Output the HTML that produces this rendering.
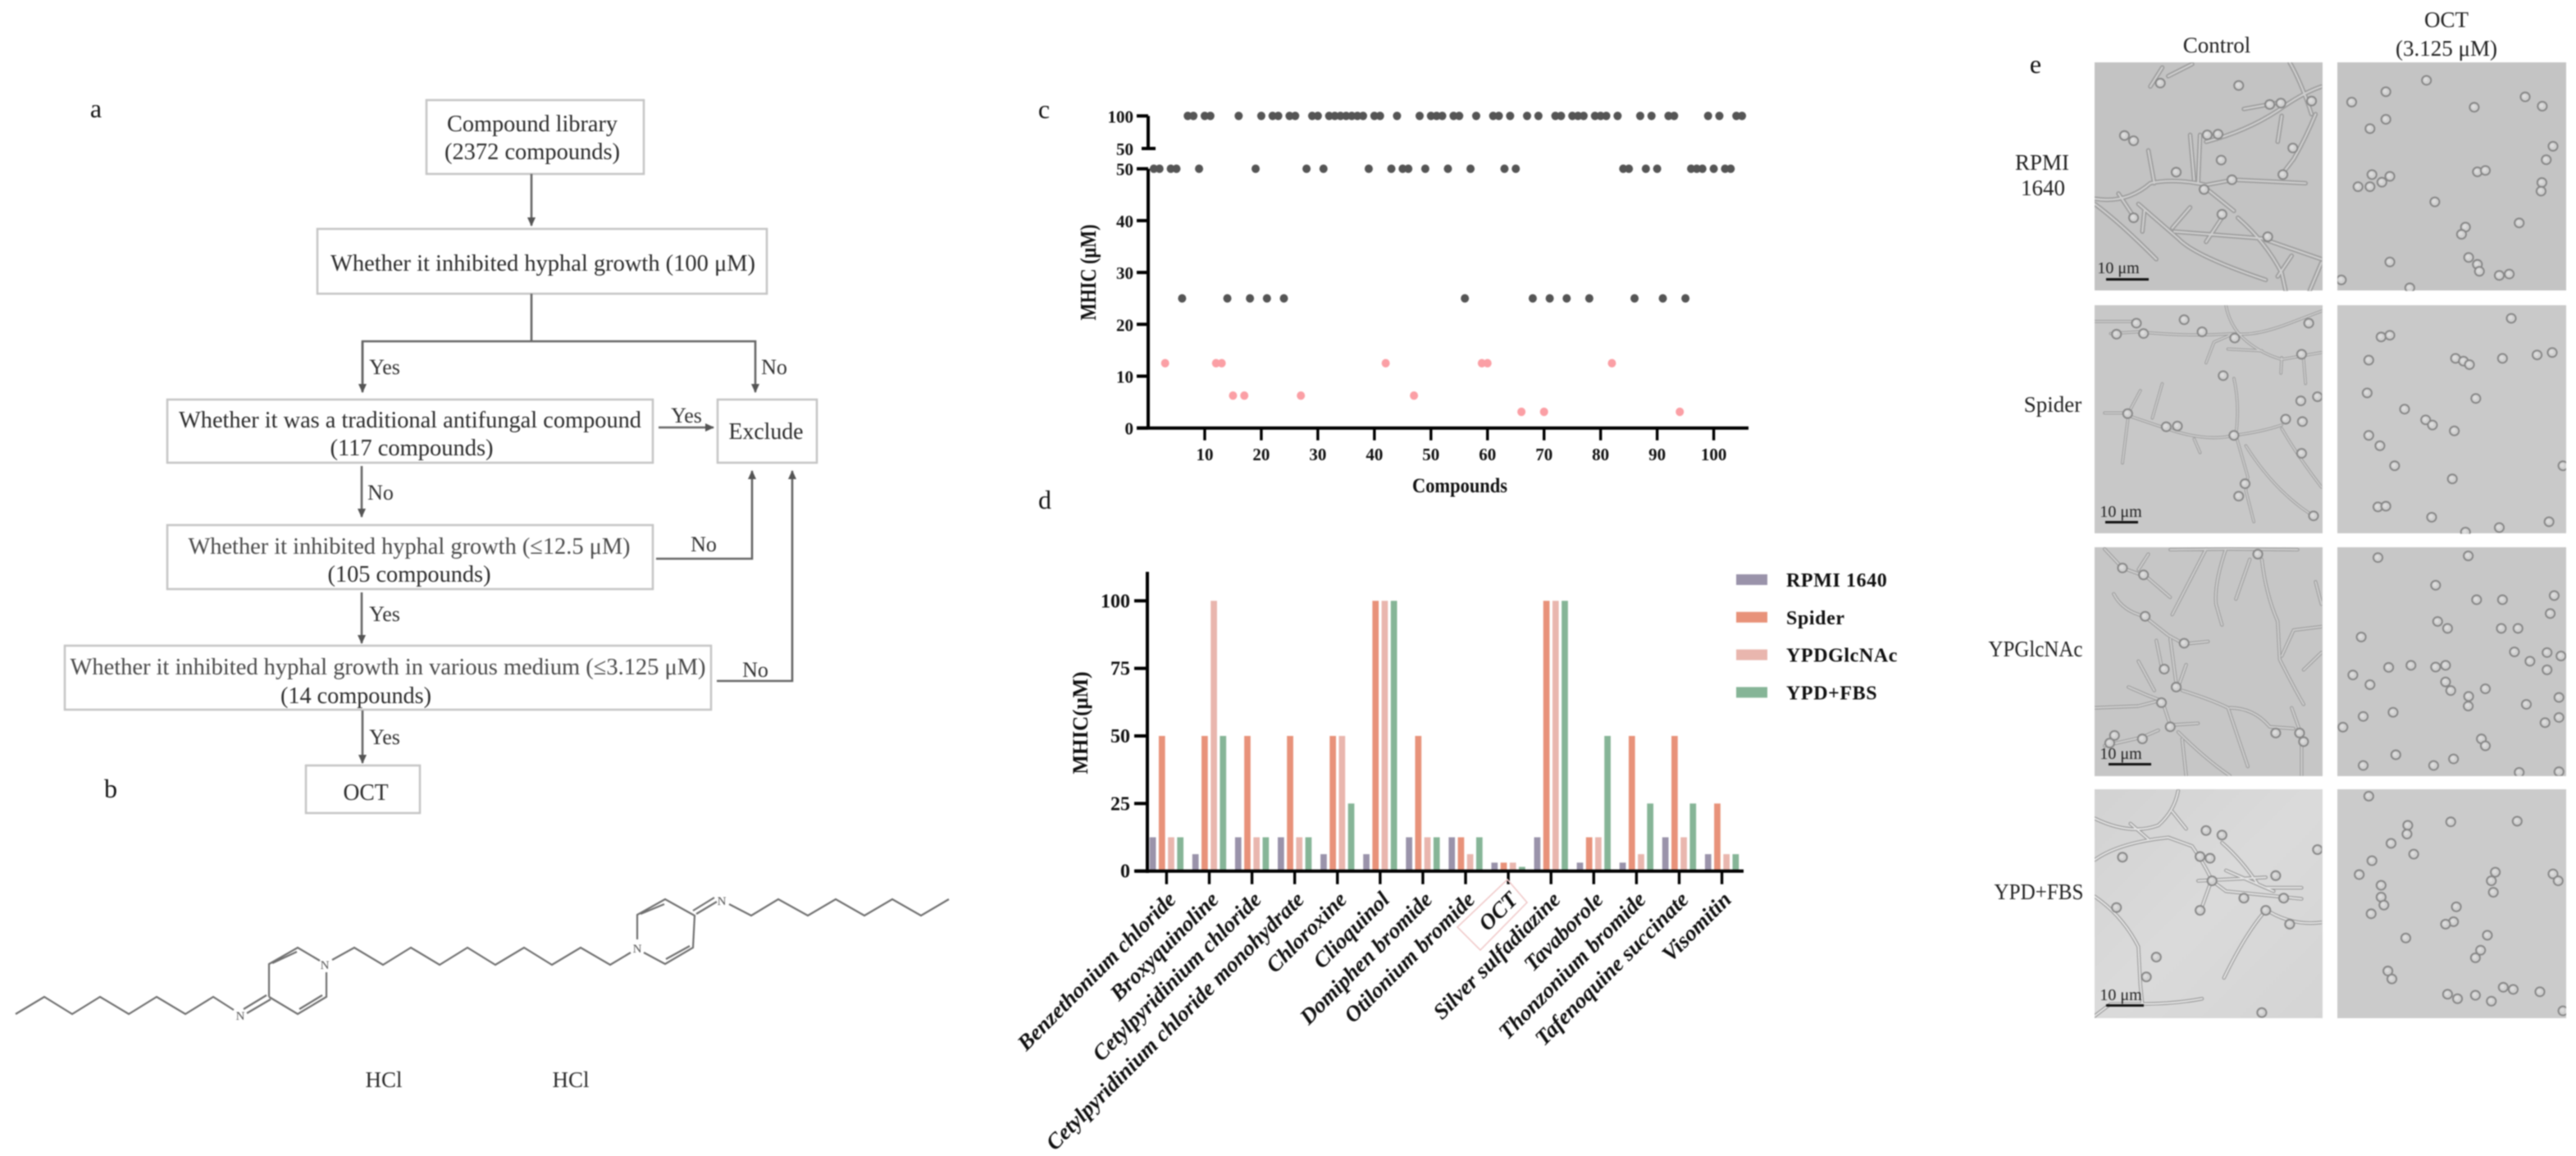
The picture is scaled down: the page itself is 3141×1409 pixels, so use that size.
<!DOCTYPE html>
<html lang="en">
<head>
<meta charset="utf-8">
<title>OCT screening figure</title>
<style>
html,body{margin:0;padding:0;background:#fff;width:3141px;height:1409px;overflow:hidden}
svg{display:block;filter:blur(.75px)}
text{font-family:"Liberation Serif","Noto Serif CJK SC",serif}
.fl{font-size:29px;fill:#2c2c2c;text-anchor:middle}
.fg{font-size:29px;fill:#4a4a4a;text-anchor:middle}
.yn{font-size:26px;fill:#333;text-anchor:middle}
.pl{font-size:32px;fill:#111;text-anchor:middle}
.box{fill:#fff;stroke:#c6c6c6;stroke-width:2.6}
.ar{fill:none;stroke:#666;stroke-width:2.6}
.ah{fill:#555}
.mol{fill:none;stroke:#707070;stroke-width:2.2}
.at{font-size:15px;fill:#555;text-anchor:middle}
.ph{font-size:27px;fill:#222;text-anchor:middle}
.sc{font-size:20px;fill:#222;text-anchor:middle}
.hy path,.hy use,#c ellipse{vector-effect:non-scaling-stroke}
.h1{fill:none;stroke:#9c9c9c;stroke-width:5.5;stroke-linecap:round;stroke-linejoin:round}
.h2{fill:none;stroke:#cfcfcf;stroke-width:2.2;stroke-linecap:round;stroke-linejoin:round}
.tick{font-size:21px;font-weight:bold;fill:#111;text-anchor:end}
.tickx{font-size:21px;font-weight:bold;fill:#111;text-anchor:middle}
.lab{font-weight:bold;fill:#111;text-anchor:middle}
</style>
</head>
<body>
<svg id="fig" xmlns="http://www.w3.org/2000/svg" width="3141" height="1409" viewBox="0 0 3141 1409">
<defs>
<g id="c"><ellipse rx="11.5" ry="13" fill="#cfcfcf" stroke="#868686" stroke-width="1.9"/><ellipse cx="-2" cy="-2" rx="5" ry="6" fill="#dcdcdc"/></g>
<marker id="arrow" markerUnits="userSpaceOnUse" markerWidth="12" markerHeight="12" refX="10" refY="6" orient="auto"><path d="M0 1 L11 6 L0 11 Z" fill="#555"/></marker>
<linearGradient id="lightbg" x1="0" y1="0" x2="1" y2="1"><stop offset="0" stop-color="#d2d2d2"/><stop offset=".5" stop-color="#dadada"/><stop offset="1" stop-color="#d4d4d4"/></linearGradient>
</defs>

<!-- panel a : flowchart -->
<g>
<text class="pl" x="117" y="143">a</text>
<rect class="box" x="520" y="122" width="265" height="90"/>
<text class="fl" x="649" y="160" textLength="208" lengthAdjust="spacingAndGlyphs">Compound library</text>
<text class="fl" x="649" y="194" textLength="214" lengthAdjust="spacingAndGlyphs">(2372 compounds)</text>
<rect class="box" x="387" y="279" width="548" height="79"/>
<text class="fl" x="662" y="330" textLength="518" lengthAdjust="spacingAndGlyphs">Whether it inhibited hyphal growth (100 μM)</text>
<rect class="box" x="204" y="487" width="592" height="77"/>
<text class="fl" x="500" y="521" textLength="564" lengthAdjust="spacingAndGlyphs">Whether it was a traditional antifungal compound</text>
<text class="fl" x="502" y="555" textLength="199" lengthAdjust="spacingAndGlyphs">(117 compounds)</text>
<rect class="box" x="875" y="487" width="121" height="77"/>
<text class="fl" x="934" y="535" textLength="91" lengthAdjust="spacingAndGlyphs">Exclude</text>
<rect class="box" x="204" y="640" width="592" height="78"/>
<text class="fg" x="499" y="675" textLength="539" lengthAdjust="spacingAndGlyphs">Whether it inhibited hyphal growth (≤12.5 μM)</text>
<text class="fl" x="499" y="709" textLength="199" lengthAdjust="spacingAndGlyphs">(105 compounds)</text>
<rect class="box" x="79" y="787" width="788" height="78"/>
<text class="fg" x="473" y="822" textLength="775" lengthAdjust="spacingAndGlyphs">Whether it inhibited hyphal growth in various medium (≤3.125 μM)</text>
<text class="fl" x="434" y="857" textLength="184" lengthAdjust="spacingAndGlyphs">(14 compounds)</text>
<rect class="box" x="373" y="933" width="139" height="58"/>
<text class="fl" x="446" y="975" textLength="55" lengthAdjust="spacingAndGlyphs">OCT</text>
<g>
<path class="ar" d="M648 212V275" marker-end="url(#arrow)"/>
<path class="ar" d="M648 358V416"/>
<path class="ar" d="M442 478V416H921V478" marker-end="url(#arrow)"/>
<path class="ar" d="M442 416V478" marker-end="url(#arrow)"/>
<path class="ar" d="M803 521H870" marker-end="url(#arrow)"/>
<path class="ar" d="M441 568V630" marker-end="url(#arrow)"/>
<path class="ar" d="M800 681H917V574" marker-end="url(#arrow)"/>
<path class="ar" d="M441 722V784" marker-end="url(#arrow)"/>
<path class="ar" d="M874 830H966V574" marker-end="url(#arrow)"/>
<path class="ar" d="M442 866V930" marker-end="url(#arrow)"/>
</g>
<text class="yn" x="469" y="456">Yes</text>
<text class="yn" x="944" y="456">No</text>
<text class="yn" x="837" y="515">Yes</text>
<text class="yn" x="464" y="609">No</text>
<text class="yn" x="858" y="672">No</text>
<text class="yn" x="469" y="757">Yes</text>
<text class="yn" x="921" y="825">No</text>
<text class="yn" x="469" y="907">Yes</text>
</g>

<!-- panel b : structure -->
<g>
<text class="pl" x="135" y="972">b</text>
<path class="mol" d="M19 1236L54 1215L88 1236L122 1215L157 1236L191 1215L226 1236L260 1215L285 1231"/>
<path class="mol" d="M297 1230L325 1213M301 1235L330 1218M328 1215V1175L363 1155L390 1171M332 1174L362 1160M328 1215L363 1236L398 1215V1185M365 1230L393 1213"/>
<path class="mol" d="M405 1170L432 1155L467 1176L501 1155L536 1176L570 1155L604 1176L639 1155L673 1176L708 1155L744 1176L769 1161"/>
<path class="mol" d="M777 1145V1115L811 1096L847 1116V1116L845 1155L811 1175L785 1161M781 1114L810 1102M841 1153L812 1169M849 1114L874 1099M845 1110L871 1094"/>
<path class="mol" d="M889 1102L916 1116L949 1096L985 1116L1019 1096L1054 1116L1088 1096L1123 1116L1157 1096"/>
<text class="at" x="293" y="1243">N</text>
<text class="at" x="396" y="1181">N</text>
<text class="at" x="777" y="1161">N</text>
<text class="at" x="880" y="1103">N</text>
<text class="fl" x="468" y="1325" style="font-size:27px" textLength="45" lengthAdjust="spacingAndGlyphs">HCl</text>
<text class="fl" x="696" y="1325" style="font-size:27px" textLength="45" lengthAdjust="spacingAndGlyphs">HCl</text>
</g>

<!-- panels c and d filled by script -->
<g id="chart-c">
<text class="pl" x="1273" y="144">c</text>
</g>
<g id="chart-d">
<text class="pl" x="1274" y="620">d</text>
</g>

<!-- panel e : micrographs -->
<g>
<text class="pl" x="2482" y="89">e</text>
<text class="ph" x="2703" y="64">Control</text>
<text class="ph" x="2983" y="33">OCT</text>
<text class="ph" x="2983" y="68">(3.125 μM)</text>
<text class="ph" x="2490" y="207">RPMI</text>
<text class="ph" x="2491" y="238">1640</text>
<text class="ph" x="2503" y="502">Spider</text>
<text class="ph" x="2482" y="800" textLength="115" lengthAdjust="spacingAndGlyphs">YPGlcNAc</text>
<text class="ph" x="2486" y="1096" textLength="109" lengthAdjust="spacingAndGlyphs">YPD+FBS</text>

<rect x="2554" y="76" width="278" height="278" fill="#c3c3c3"/>
<rect x="2850" y="76" width="279" height="278" fill="#c4c4c4"/>
<rect x="2554" y="372" width="278" height="278" fill="#c8c8c8"/>
<rect x="2850" y="372" width="279" height="278" fill="#c9c9c9"/>
<rect x="2554" y="667" width="278" height="279" fill="#c6c6c6"/>
<rect x="2850" y="667" width="279" height="279" fill="#c7c7c7"/>
<rect x="2554" y="962" width="278" height="279" fill="url(#lightbg)"/>
<rect x="2850" y="962" width="279" height="279" fill="#cbcbcb"/>

<clipPath id="cp1"><rect x="360" y="180" width="571" height="662"/></clipPath>
<clipPath id="cp2"><rect x="360" y="883" width="571" height="662"/></clipPath>
<clipPath id="cp3"><rect x="360" y="65" width="571" height="662"/></clipPath>
<clipPath id="cp4"><rect x="360" y="766" width="571" height="660"/></clipPath>
<clipPath id="cp5"><rect x="968" y="180" width="575" height="662"/></clipPath>
<clipPath id="cp6"><rect x="968" y="883" width="575" height="662"/></clipPath>
<clipPath id="cp7"><rect x="968" y="65" width="575" height="662"/></clipPath>
<clipPath id="cp8"><rect x="968" y="766" width="575" height="660"/></clipPath>

<!-- control RPMI -->
<g class="hy" clip-path="url(#cp1)" transform="translate(2554,76) scale(.4854,.4209) translate(-360,-180)">
<defs><path id="p1" d="M360 575Q440 590 500 530Q560 515 640 535L710 520L890 530M850 180Q880 240 905 330M930 250Q880 270 820 320Q740 380 640 410M735 315L830 295M830 335L820 410M915 330Q890 400 860 460L830 505M600 390L610 520M625 390L620 530M495 435L510 530M640 545L710 610M420 560L460 630M360 590Q420 640 515 750M600 600L555 660M485 610L480 670M470 590Q520 640 570 690Q610 740 790 810M680 630L640 700M560 670L780 690L930 750M720 630Q790 700 830 790L840 842M855 740L820 800M930 760L900 842M500 250L530 195M545 220L605 185"/></defs>
<use href="#p1" class="h1"/><use href="#p1" class="h2"/>
<use href="#c" x="525" y="240"/><use href="#c" x="722" y="247"/><use href="#c" x="435" y="392"/><use href="#c" x="458" y="407"/><use href="#c" x="643" y="390"/><use href="#c" x="670" y="388"/><use href="#c" x="678" y="463"/><use href="#c" x="565" y="498"/><use href="#c" x="705" y="520"/><use href="#c" x="833" y="505"/><use href="#c" x="635" y="548"/><use href="#c" x="458" y="630"/><use href="#c" x="795" y="685"/><use href="#c" x="858" y="428"/><use href="#c" x="905" y="292"/><use href="#c" x="800" y="302"/><use href="#c" x="828" y="298"/><use href="#c" x="680" y="620"/>
</g>
<!-- control Spider -->
<g class="hy" clip-path="url(#cp2)" transform="translate(2554,372) scale(.4854,.4209) translate(-360,-883)">
<defs><path id="p2" d="M360 930L470 930M400 965L470 960Q600 975 710 965Q760 975 850 935L930 900M690 885Q700 940 730 975Q770 1020 830 1040L930 1020M700 970L660 990L640 1050M695 1010L780 1015M830 1035L828 1080M885 1040L890 1110M445 1195L385 1195M445 1200L430 1340M445 1195L475 1130M505 1210L530 1110M450 1205L540 1240Q640 1280 710 1260Q780 1250 830 1230M710 1095Q725 1170 715 1260L745 1380L740 1420L760 1510M740 1290Q800 1400 880 1470L905 1490M830 1240Q870 1320 930 1410M610 1270L625 1310"/></defs>
<use href="#p2" class="h1" style="stroke-width:3.6"/><use href="#p2" class="h2" style="stroke-width:1.6"/>
<use href="#c" x="415" y="967"/><use href="#c" x="465" y="935"/><use href="#c" x="483" y="965"/><use href="#c" x="585" y="925"/><use href="#c" x="630" y="960"/><use href="#c" x="712" y="978"/><use href="#c" x="898" y="935"/><use href="#c" x="880" y="1025"/><use href="#c" x="683" y="1087"/><use href="#c" x="443" y="1197"/><use href="#c" x="540" y="1235"/><use href="#c" x="568" y="1233"/><use href="#c" x="840" y="1213"/><use href="#c" x="878" y="1160"/><use href="#c" x="920" y="1148"/><use href="#c" x="882" y="1220"/><use href="#c" x="880" y="1312"/><use href="#c" x="710" y="1260"/><use href="#c" x="738" y="1400"/><use href="#c" x="722" y="1436"/><use href="#c" x="910" y="1493"/>
</g>
<!-- control YPGlcNAc -->
<g class="hy" clip-path="url(#cp3)" transform="translate(2554,667) scale(.4854,.4209) translate(-360,-65)">
<defs><path id="p3" d="M385 70L430 125L490 150L550 210M495 85L470 130M640 70Q600 160 555 260M690 70Q660 170 665 230L680 290M750 100L715 215M780 100Q790 200 820 280L825 390Q860 470 885 520M408 200Q430 250 485 265L545 320L585 345L645 338M515 335L530 420M550 330L565 460M590 405L570 470M470 395L510 480M445 470L495 495L530 510L550 580M360 530L470 525L520 510M580 480Q650 505 695 530L745 700M700 530Q760 530 800 585L860 590M855 530L880 610L880 727M930 295L860 305L830 380M915 165L930 230M930 370L885 420M550 580L620 575M570 600Q640 680 700 727M580 620L590 727M385 640L480 615L520 595M550 72L700 70L870 72"/></defs>
<use href="#p3" class="h1" style="stroke-width:4.2"/><use href="#p3" class="h2" style="stroke-width:2"/>
<use href="#c" x="430" y="125"/><use href="#c" x="483" y="145"/><use href="#c" x="487" y="265"/><use href="#c" x="585" y="343"/><use href="#c" x="535" y="418"/><use href="#c" x="565" y="470"/><use href="#c" x="528" y="515"/><use href="#c" x="550" y="585"/><use href="#c" x="815" y="603"/><use href="#c" x="875" y="603"/><use href="#c" x="885" y="628"/><use href="#c" x="410" y="610"/><use href="#c" x="398" y="632"/><use href="#c" x="480" y="620"/><use href="#c" x="770" y="85"/>
</g>
<!-- control YPD+FBS -->
<g class="hy" clip-path="url(#cp4)" transform="translate(2554,962) scale(.4854,.4227) translate(-360,-766)">
<defs><path id="p4" d="M360 850Q450 900 520 870Q560 830 570 770M360 970Q420 920 545 905M450 865L495 910M555 830L590 880M545 905L605 930Q640 990 655 1030L690 1060L880 1082M620 1030L790 1020M690 1000L790 1050L880 1050M680 920Q730 970 770 1040L810 1060M650 1040L625 1120M360 1075Q430 1130 470 1220L475 1330L480 1385Q560 1385 630 1370M360 1420L400 1385L480 1385M790 1115Q740 1180 685 1310M800 1120Q860 1160 930 1150"/></defs>
<use href="#p4" class="h1" style="stroke-width:4.4"/><use href="#p4" class="h2" style="stroke-width:2;stroke:#e4e4e4"/>
<use href="#c" x="430" y="962"/><use href="#c" x="415" y="1107"/><use href="#c" x="625" y="960"/><use href="#c" x="650" y="965"/><use href="#c" x="640" y="885"/><use href="#c" x="680" y="898"/><use href="#c" x="920" y="940"/><use href="#c" x="735" y="1080"/><use href="#c" x="835" y="1080"/><use href="#c" x="790" y="1115"/><use href="#c" x="850" y="1155"/><use href="#c" x="515" y="1250"/><use href="#c" x="490" y="1307"/><use href="#c" x="780" y="1410"/><use href="#c" x="625" y="1115"/><use href="#c" x="655" y="1030"/><use href="#c" x="815" y="1015"/>
</g>
<!-- OCT RPMI -->
<g class="hy" clip-path="url(#cp5)" transform="translate(2850,76) scale(.4852,.4209) translate(-968,-180)">
<use href="#c" x="1192" y="232"/><use href="#c" x="1090" y="265"/><use href="#c" x="1004" y="295"/><use href="#c" x="1312" y="310"/><use href="#c" x="1440" y="280"/><use href="#c" x="1483" y="307"/><use href="#c" x="1090" y="345"/><use href="#c" x="1050" y="372"/><use href="#c" x="1510" y="423"/><use href="#c" x="1493" y="462"/><use href="#c" x="1055" y="505"/><use href="#c" x="1080" y="527"/><use href="#c" x="1100" y="510"/><use href="#c" x="1020" y="540"/><use href="#c" x="1050" y="540"/><use href="#c" x="1320" y="497"/><use href="#c" x="1340" y="493"/><use href="#c" x="1482" y="528"/><use href="#c" x="1480" y="553"/><use href="#c" x="1213" y="584"/><use href="#c" x="1290" y="657"/><use href="#c" x="1280" y="678"/><use href="#c" x="1425" y="645"/><use href="#c" x="1100" y="758"/><use href="#c" x="1298" y="745"/><use href="#c" x="1320" y="765"/><use href="#c" x="1325" y="785"/><use href="#c" x="1400" y="793"/><use href="#c" x="1375" y="797"/><use href="#c" x="978" y="810"/><use href="#c" x="1150" y="833"/>
</g>
<!-- OCT Spider -->
<g class="hy" clip-path="url(#cp6)" transform="translate(2850,372) scale(.4852,.4209) translate(-968,-883)">
<use href="#c" x="1405" y="921"/><use href="#c" x="1078" y="975"/><use href="#c" x="1100" y="970"/><use href="#c" x="1047" y="1042"/><use href="#c" x="1265" y="1037"/><use href="#c" x="1285" y="1045"/><use href="#c" x="1300" y="1055"/><use href="#c" x="1383" y="1037"/><use href="#c" x="1470" y="1027"/><use href="#c" x="1508" y="1020"/><use href="#c" x="1043" y="1137"/><use href="#c" x="1316" y="1153"/><use href="#c" x="1137" y="1184"/><use href="#c" x="1190" y="1215"/><use href="#c" x="1207" y="1230"/><use href="#c" x="1262" y="1247"/><use href="#c" x="1047" y="1260"/><use href="#c" x="1075" y="1290"/><use href="#c" x="1112" y="1348"/><use href="#c" x="1257" y="1386"/><use href="#c" x="1070" y="1467"/><use href="#c" x="1090" y="1465"/><use href="#c" x="1205" y="1497"/><use href="#c" x="1375" y="1527"/><use href="#c" x="1500" y="1510"/><use href="#c" x="1535" y="1348"/><use href="#c" x="1290" y="1540"/>
</g>
<!-- OCT YPGlcNAc -->
<g class="hy" clip-path="url(#cp7)" transform="translate(2850,667) scale(.4852,.4209) translate(-968,-65)">
<use href="#c" x="1070" y="95"/><use href="#c" x="1297" y="90"/><use href="#c" x="1215" y="175"/><use href="#c" x="1318" y="217"/><use href="#c" x="1383" y="217"/><use href="#c" x="1513" y="205"/><use href="#c" x="1503" y="257"/><use href="#c" x="1220" y="280"/><use href="#c" x="1245" y="300"/><use href="#c" x="1380" y="300"/><use href="#c" x="1422" y="300"/><use href="#c" x="1028" y="325"/><use href="#c" x="1413" y="368"/><use href="#c" x="1452" y="395"/><use href="#c" x="1495" y="370"/><use href="#c" x="1530" y="380"/><use href="#c" x="1495" y="420"/><use href="#c" x="1097" y="413"/><use href="#c" x="1153" y="407"/><use href="#c" x="1240" y="407"/><use href="#c" x="1215" y="412"/><use href="#c" x="1007" y="435"/><use href="#c" x="1050" y="463"/><use href="#c" x="1240" y="455"/><use href="#c" x="1253" y="480"/><use href="#c" x="1298" y="497"/><use href="#c" x="1340" y="475"/><use href="#c" x="1297" y="525"/><use href="#c" x="1443" y="520"/><use href="#c" x="1108" y="543"/><use href="#c" x="1033" y="555"/><use href="#c" x="1490" y="573"/><use href="#c" x="1525" y="558"/><use href="#c" x="1525" y="500"/><use href="#c" x="982" y="586"/><use href="#c" x="1330" y="620"/><use href="#c" x="1340" y="640"/><use href="#c" x="1115" y="666"/><use href="#c" x="1260" y="678"/><use href="#c" x="1210" y="697"/><use href="#c" x="1033" y="697"/><use href="#c" x="1425" y="717"/><use href="#c" x="1525" y="715"/>
</g>
<!-- OCT YPD+FBS -->
<g class="hy" clip-path="url(#cp8)" transform="translate(2850,962) scale(.4852,.4227) translate(-968,-766)">
<use href="#c" x="1047" y="786"/><use href="#c" x="1253" y="860"/><use href="#c" x="1420" y="858"/><use href="#c" x="1145" y="870"/><use href="#c" x="1143" y="895"/><use href="#c" x="1103" y="922"/><use href="#c" x="1160" y="953"/><use href="#c" x="1055" y="972"/><use href="#c" x="1023" y="1012"/><use href="#c" x="1365" y="1005"/><use href="#c" x="1510" y="1010"/><use href="#c" x="1355" y="1030"/><use href="#c" x="1523" y="1030"/><use href="#c" x="1078" y="1043"/><use href="#c" x="1360" y="1063"/><use href="#c" x="1078" y="1077"/><use href="#c" x="1085" y="1100"/><use href="#c" x="1267" y="1105"/><use href="#c" x="1053" y="1125"/><use href="#c" x="1260" y="1148"/><use href="#c" x="1240" y="1155"/><use href="#c" x="1140" y="1195"/><use href="#c" x="1345" y="1187"/><use href="#c" x="1328" y="1230"/><use href="#c" x="1315" y="1252"/><use href="#c" x="1095" y="1290"/><use href="#c" x="1105" y="1313"/><use href="#c" x="1385" y="1337"/><use href="#c" x="1410" y="1343"/><use href="#c" x="1477" y="1350"/><use href="#c" x="1245" y="1357"/><use href="#c" x="1270" y="1370"/><use href="#c" x="1315" y="1360"/><use href="#c" x="1355" y="1377"/><use href="#c" x="1535" y="1405"/>
</g>
<!-- scale bars -->
<g>
<text class="sc" x="2583" y="333">10 μm</text>
<rect x="2568" y="339" width="52" height="3" fill="#111"/>
<text class="sc" x="2586" y="630">10 μm</text>
<rect x="2567" y="635" width="40" height="3" fill="#111"/>
<text class="sc" x="2586" y="925">10 μm</text>
<rect x="2571" y="930" width="52" height="3" fill="#111"/>
<text class="sc" x="2586" y="1219">10 μm</text>
<rect x="2568" y="1224" width="46" height="3" fill="#111"/>
</g>
</g>
</svg>

<script>
// ---- chart c data: MHIC value of compounds 1..105 ----
const compoundMhic = [
  50,50,12.5,50,50,25,100,100,50,100,
  100,12.5,12.5,25,6.25,100,6.25,25,50,100,
  25,100,100,25,100,100,6.25,50,100,100,
  50,100,100,100,100,100,100,100,50,100,
  100,12.5,50,100,50,50,6.25,100,50,100,
  100,100,50,100,100,25,50,100,12.5,12.5,
  100,100,50,100,50,3.125,100,25,100,3.125,
  25,100,100,25,100,100,100,25,100,100,
  100,12.5,100,50,50,25,100,50,100,50,
  25,100,100,3.125,25,50,50,50,100,50,
  100,50,50,100,100
];
const scatterLowerTicks = [0,10,20,30,40,50];
const scatterUpperTicks = [50,100];
const scatterXTicks = [10,20,30,40,50,60,70,80,90,100];

// ---- chart d data ----
const barCategories = ["Benzethonium chloride","Broxyquinoline","Cetylpyridinium chloride","Cetylpyridinium chloride monohydrate","Chloroxine","Clioquinol","Domiphen bromide","Otilonium bromide","OCT","Silver sulfadiazine","Tavaborole","Thonzonium bromide","Tafenoquine succinate","Visomitin"];
const seriesNames = ["RPMI 1640","Spider","YPDGlcNAc","YPD+FBS"];
const rpmiValues = [12.5,6.25,12.5,12.5,6.25,6.25,12.5,12.5,3.125,12.5,3.125,3.125,12.5,6.25];
const spiderValues = [50,50,50,50,50,100,50,12.5,3.125,100,12.5,50,50,25];
const glcnacValues = [12.5,100,12.5,12.5,50,100,12.5,6.25,3.125,100,12.5,6.25,12.5,6.25];
const fbsValues = [12.5,50,12.5,12.5,25,100,12.5,12.5,1.56,100,50,25,25,6.25];
const barYTicks = [0,25,50,75,100];

const NS = "http://www.w3.org/2000/svg";
function mk(parent, tag, attrs, txt) {
  const el = document.createElementNS(NS, tag);
  for (const k in attrs) el.setAttribute(k, attrs[k]);
  if (txt !== undefined) el.textContent = txt;
  parent.appendChild(el);
  return el;
}

// axis functions, chart c
function cX(n) { return 1400 + 6.896 * n; }
function cYLow(v) { return 521.7 - 6.32 * v; }
function cYHigh(v) { return 181 - (v - 50) * 0.794; }
function cY(v) { return v > 50 ? cYHigh(v) : cYLow(v); }

// axis functions, chart d
function dX(i) { return 1422.4 + 52.09 * i; }
function dY(v) { return 1061.7 - 3.294 * v; }

const gc = document.getElementById("chart-c");
let el;

// chart c points
compoundMhic.forEach(function (v, i) {
  const pt = mk(gc, "ellipse", {cx: cX(i + 1), cy: cY(v), rx: 5, ry: 5.2, fill: v <= 12.5 ? "#fb9fa5" : "#555555"});
  
  
});

// chart c axes
el = mk(gc, "path", {d: "M1400 " + cYHigh(100) + "V" + cYHigh(50), stroke: "#000", "stroke-width": 4, fill: "none"});


el = mk(gc, "path", {d: "M1400 " + cYLow(50) + "V" + (cYLow(0) + 2) + "M1386 " + cYLow(0) + "H2132", stroke: "#000", "stroke-width": 4, fill: "none"});



scatterLowerTicks.forEach(function (t) {
  const tk = mk(gc, "path", {d: "M1386 " + cYLow(t) + "H1400", stroke: "#000", "stroke-width": 4});
  
  
  const lb = mk(gc, "text", {class: "tick", x: 1382, y: cYLow(t) + 8}, String(t));
  
  
});
scatterUpperTicks.forEach(function (t) {
  const tk = mk(gc, "path", {d: t === 50 ? "M1392 " + cYHigh(t) + "H1409" : "M1386 " + cYHigh(t) + "H1400", stroke: "#000", "stroke-width": 4});
  
  
  const lb = mk(gc, "text", {class: "tick", x: 1382, y: cYHigh(t) + 8}, String(t));
  
  
});
scatterXTicks.forEach(function (t) {
  const tk = mk(gc, "path", {d: "M" + cX(t) + " " + cYLow(0) + "V" + (cYLow(0) + 15), stroke: "#000", "stroke-width": 3.4});
  
  
  const lb = mk(gc, "text", {class: "tickx", x: cX(t), y: 561}, String(t));
  
  
});
el = mk(gc, "text", {class: "lab", x: 1780, y: 600, style: "font-size:25px", textLength: 116, lengthAdjust: "spacingAndGlyphs"}, "Compounds");


el = mk(gc, "text", {class: "lab", x: 0, y: 0, transform: "translate(1336,332) rotate(-90)", style: "font-size:27px", textLength: 117, lengthAdjust: "spacingAndGlyphs"}, "MHIC (μM)");



// chart d bars
const gd = document.getElementById("chart-d");
const allSeries = [rpmiValues, spiderValues, glcnacValues, fbsValues];
const seriesColors = ["#9a93aa", "#e8927a", "#e9b6ae", "#86b597"];
allSeries.forEach(function (vals, s) {
  vals.forEach(function (v, i) {
    const bar = mk(gd, "rect", {x: dX(i) + (s - 1.5) * 11.2 - 3.85, y: dY(v), width: 7.7, height: dY(0) - dY(v), fill: seriesColors[s]});
    
    
  });
});

// chart d axes
el = mk(gd, "path", {d: "M1399 697V1064M1384 " + dY(0) + "H2126", stroke: "#000", "stroke-width": 4, fill: "none"});


barYTicks.forEach(function (t) {
  const tk = mk(gd, "path", {d: "M1383 " + dY(t) + "H1399", stroke: "#000", "stroke-width": 4});
  
  
  const lb = mk(gd, "text", {class: "tick", x: 1378, y: dY(t) + 8, style: "font-size:24px"}, String(t));
  
  
});
barCategories.forEach(function (name, i) {
  const tk = mk(gd, "path", {d: "M" + dX(i) + " " + dY(0) + "V" + (dY(0) + 16), stroke: "#000", "stroke-width": 3.4});
  
  
  const lb = mk(gd, "text", {x: 0, y: 0, transform: "translate(" + (dX(i) + 13) + ",1098) rotate(-45)", "text-anchor": "end", style: "font-size:27px;font-weight:bold;font-style:italic;fill:#111"}, name);
  
  
});
el = mk(gd, "path", {d: "M1838 1072L1862 1100L1805 1158L1777 1130Z", fill: "none", stroke: "#f0c9c9", "stroke-width": 1.6});


el = mk(gd, "text", {class: "lab", x: 0, y: 0, transform: "translate(1326,881) rotate(-90)", style: "font-size:26px", textLength: 125, lengthAdjust: "spacingAndGlyphs"}, "MHIC(μM)");



// legend
seriesNames.forEach(function (name, s) {
  const top = 700 + s * 45.8;
  const sw = mk(gd, "rect", {x: 2117, y: top, width: 38, height: 13, fill: seriesColors[s]});
  
  
  const lb = mk(gd, "text", {x: 2178, y: top + 15, style: "font-size:24px;font-weight:bold;fill:#111;letter-spacing:.6px"}, name);
  
  
});
</script>
</body>
</html>
